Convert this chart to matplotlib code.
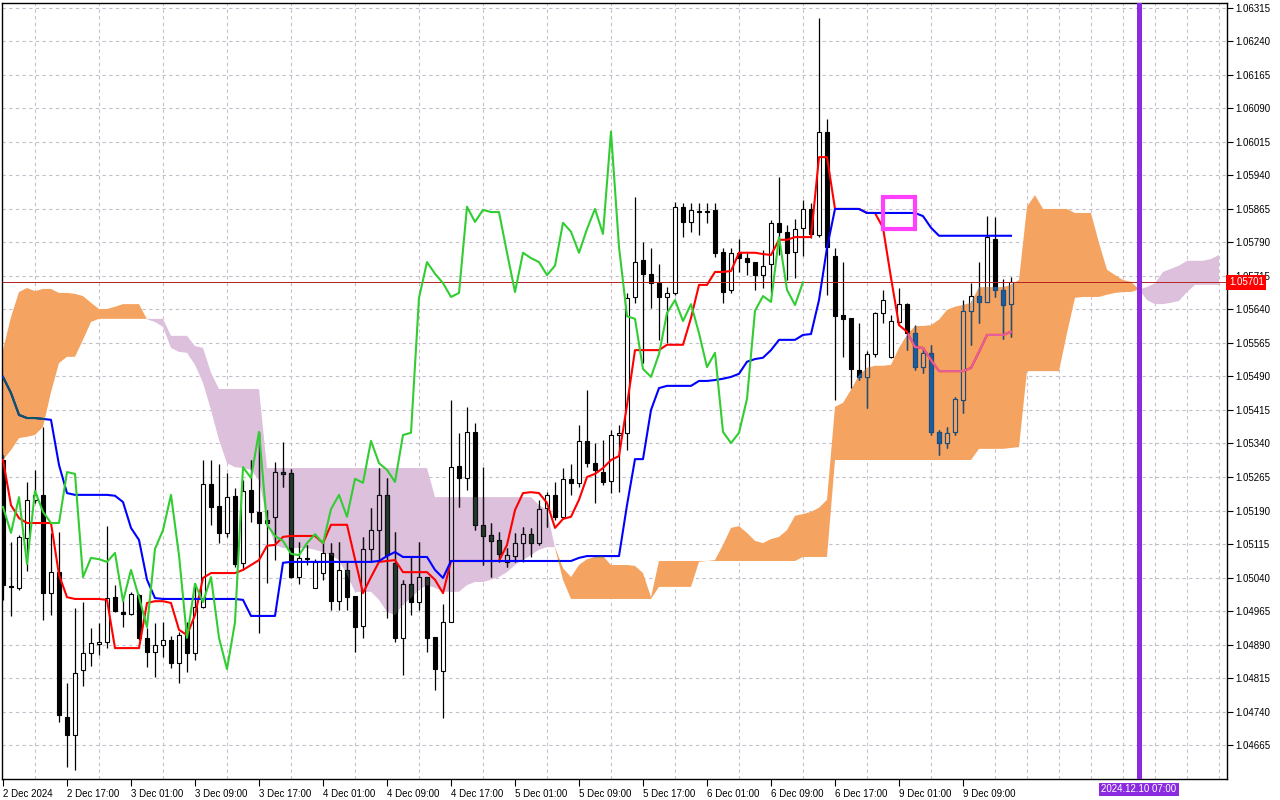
import matplotlib
matplotlib.use("Agg")
import matplotlib.pyplot as plt
import matplotlib.path as mpath
import matplotlib.transforms as mtrans
import numpy as np

# EURUSD H1, 2 Dec 2024 09:00 .. 9 Dec 2024 15:00 (bar index 0..126)
open_p = [1.05303, 1.05021, 1.05017, 1.05128, 1.05214, 1.05225, 1.05005, 1.05052, 1.04728, 1.04688,
          1.04833, 1.04871, 1.04891, 1.04896, 1.04996, 1.04963, 1.04958, 1.05001, 1.04905, 1.04873,
          1.04889, 1.04900, 1.04849, 1.04929, 1.04871, 1.04974, 1.05249, 1.05200, 1.05140, 1.05223,
          1.05073, 1.05236, 1.05187, 1.05169, 1.05176, 1.05276, 1.05274, 1.05041, 1.05084, 1.05017,
          1.05050, 1.05095, 1.04987, 1.05057, 1.04999, 1.04932, 1.05104, 1.05146, 1.05225, 1.05073,
          1.04905, 1.05026, 1.04985, 1.05041, 1.04907, 1.04831, 1.04940, 1.05290, 1.05263, 1.05366,
          1.05158, 1.05135, 1.05124, 1.05075, 1.05088, 1.05117, 1.05137, 1.05117, 1.05196, 1.05225,
          1.05176, 1.05261, 1.05252, 1.05346, 1.05296, 1.05276, 1.05256, 1.05359, 1.05364, 1.05668,
          1.05751, 1.05720, 1.05699, 1.05668, 1.05677, 1.05870, 1.05836, 1.05861, 1.05861, 1.05863,
          1.05769, 1.05684, 1.05767, 1.05755, 1.05746, 1.05717, 1.05742, 1.05834, 1.05814, 1.05769,
          1.05823, 1.05865, 1.05807, 1.06038, 1.05760, 1.05628, 1.05621, 1.05505, 1.05489, 1.05540,
          1.05632, 1.05534, 1.05612, 1.05652, 1.05587, 1.05511, 1.05543, 1.05366, 1.05341, 1.05366,
          1.05438, 1.05637, 1.05670, 1.05657, 1.05798, 1.05684, 1.05652]
high_p = [1.05314, 1.05120, 1.05135, 1.05254, 1.05281, 1.05377, 1.05140, 1.05142, 1.04804, 1.04972,
          1.04985, 1.04927, 1.04938, 1.05155, 1.05023, 1.04990, 1.05008, 1.05003, 1.04927, 1.04938,
          1.04940, 1.04909, 1.04918, 1.04940, 1.05028, 1.05303, 1.05303, 1.05294, 1.05274, 1.05240,
          1.05258, 1.05303, 1.05366, 1.05191, 1.05299, 1.05343, 1.05283, 1.05120, 1.05113, 1.05081,
          1.05120, 1.05117, 1.05120, 1.05075, 1.04999, 1.05131, 1.05196, 1.05285, 1.05263, 1.05142,
          1.05035, 1.05086, 1.05120, 1.05041, 1.04907, 1.04981, 1.05438, 1.05364, 1.05422, 1.05386,
          1.05287, 1.05162, 1.05142, 1.05106, 1.05140, 1.05153, 1.05151, 1.05214, 1.05231, 1.05254,
          1.05285, 1.05294, 1.05381, 1.05460, 1.05341, 1.05348, 1.05370, 1.05381, 1.05677, 1.05892,
          1.05791, 1.05778, 1.05742, 1.05690, 1.05881, 1.05878, 1.05878, 1.05878, 1.05878, 1.05878,
          1.05778, 1.05778, 1.05798, 1.05767, 1.05746, 1.05773, 1.05840, 1.05937, 1.05829, 1.05843,
          1.05885, 1.05878, 1.06293, 1.06067, 1.05778, 1.05746, 1.05621, 1.05610, 1.05547, 1.05634,
          1.05684, 1.05628, 1.05688, 1.05655, 1.05605, 1.05556, 1.05561, 1.05370, 1.05377, 1.05444,
          1.05661, 1.05699, 1.05746, 1.05849, 1.05847, 1.05708, 1.05713]
low_p = [1.04990, 1.04954, 1.05012, 1.05055, 1.05207, 1.04945, 1.04956, 1.04717, 1.04616, 1.04609,
         1.04797, 1.04842, 1.04867, 1.04882, 1.04963, 1.04929, 1.04956, 1.04900, 1.04840, 1.04817,
         1.04862, 1.04837, 1.04804, 1.04828, 1.04855, 1.04972, 1.05158, 1.05117, 1.05131, 1.05064,
         1.05057, 1.05164, 1.04916, 1.05028, 1.05079, 1.05243, 1.05039, 1.05026, 1.05068, 1.05017,
         1.05035, 1.04967, 1.04967, 1.04967, 1.04873, 1.04905, 1.05075, 1.05079, 1.04949, 1.04896,
         1.04822, 1.04956, 1.04967, 1.04873, 1.04788, 1.04725, 1.04940, 1.05198, 1.05236, 1.05146,
         1.05068, 1.05041, 1.05075, 1.05064, 1.05075, 1.05075, 1.05086, 1.05113, 1.05153, 1.05169,
         1.05176, 1.05225, 1.05243, 1.05287, 1.05207, 1.05247, 1.05229, 1.05231, 1.05325, 1.05655,
         1.05520, 1.05643, 1.05572, 1.05565, 1.05673, 1.05802, 1.05814, 1.05807, 1.05834, 1.05758,
         1.05655, 1.05677, 1.05724, 1.05717, 1.05684, 1.05688, 1.05677, 1.05762, 1.05706, 1.05711,
         1.05760, 1.05800, 1.05802, 1.05673, 1.05438, 1.05534, 1.05464, 1.05482, 1.05420, 1.05534,
         1.05610, 1.05532, 1.05610, 1.05549, 1.05505, 1.05498, 1.05359, 1.05314, 1.05330, 1.05359,
         1.05408, 1.05561, 1.05610, 1.05657, 1.05668, 1.05574, 1.05578]
close_p = [1.05023, 1.05019, 1.05131, 1.05214, 1.05225, 1.05005, 1.05052, 1.04732, 1.04688, 1.04826,
           1.04871, 1.04893, 1.04896, 1.04994, 1.04965, 1.04958, 1.05003, 1.04905, 1.04873, 1.04889,
           1.04900, 1.04849, 1.04911, 1.04871, 1.04974, 1.05249, 1.05198, 1.05140, 1.05220, 1.05070,
           1.05234, 1.05187, 1.05162, 1.05162, 1.05276, 1.05272, 1.05041, 1.05084, 1.05081, 1.05075,
           1.05095, 1.04987, 1.05057, 1.04996, 1.04929, 1.05104, 1.05146, 1.05225, 1.05090, 1.04905,
           1.05026, 1.04985, 1.05041, 1.04905, 1.04835, 1.04940, 1.05287, 1.05263, 1.05366, 1.05158,
           1.05133, 1.05122, 1.05093, 1.05090, 1.05117, 1.05137, 1.05117, 1.05193, 1.05225, 1.05176,
           1.05261, 1.05252, 1.05346, 1.05296, 1.05281, 1.05254, 1.05359, 1.05364, 1.05666, 1.05746,
           1.05720, 1.05699, 1.05668, 1.05677, 1.05870, 1.05836, 1.05863, 1.05858, 1.05858, 1.05767,
           1.05679, 1.05767, 1.05755, 1.05746, 1.05717, 1.05738, 1.05834, 1.05814, 1.05767, 1.05820,
           1.05865, 1.05809, 1.06038, 1.05780, 1.05625, 1.05619, 1.05507, 1.05489, 1.05540, 1.05632,
           1.05661, 1.05614, 1.05652, 1.05587, 1.05511, 1.05543, 1.05366, 1.05341, 1.05364, 1.05440,
           1.05637, 1.05670, 1.05657, 1.05802, 1.05684, 1.05650, 1.05701]

tenkan = [1.05303, 1.05202, 1.05173, 1.05162, 1.05162, 1.05162, 1.05162, 1.05046, 1.04996, 1.04992,
          1.04992, 1.04992, 1.04992, 1.04990, 1.04882, 1.04882, 1.04882, 1.04882, 1.04983, 1.04987,
          1.04987, 1.04983, 1.04923, 1.04911, 1.04956, 1.05039, 1.05050, 1.05050, 1.05050, 1.05050,
          1.05057, 1.05068, 1.05079, 1.05111, 1.05113, 1.05131, 1.05133, 1.05133, 1.05133, 1.05133,
          1.05117, 1.05158, 1.05158, 1.05158, 1.05081, 1.05005, 1.05041, 1.05075, 1.05077, 1.05079,
          1.05052, 1.05052, 1.05052, 1.05052, 1.05035, 1.05005, 1.05077, 1.05077, 1.05077, 1.05077,
          1.05077, 1.05077, 1.05077, 1.05113, 1.05191, 1.05229, 1.05231, 1.05229, 1.05207, 1.05151,
          1.05171, 1.05176, 1.05214, 1.05265, 1.05272, 1.05285, 1.05303, 1.05312, 1.05426, 1.05549,
          1.05549, 1.05549, 1.05549, 1.05561, 1.05561, 1.05561, 1.05621, 1.05695, 1.05695, 1.05724,
          1.05724, 1.05726, 1.05767, 1.05767, 1.05767, 1.05764, 1.05762, 1.05796, 1.05796, 1.05802,
          1.05802, 1.05802, 1.05981, 1.05981, 1.05865, 1.05865, 1.05865, 1.05865, 1.05856, 1.05856,
          1.05823, 1.05711, 1.05605, 1.05590, 1.05556, 1.05554, 1.05527, 1.05502, 1.05502, 1.05502,
          1.05502, 1.05509, 1.05545, 1.05583, 1.05583, 1.05583, 1.05590]
kijun = [1.05489, 1.05453, 1.05404, 1.05397, 1.05397, 1.05395, 1.05393, 1.05292, 1.05229, 1.05225,
         1.05225, 1.05225, 1.05225, 1.05225, 1.05223, 1.05209, 1.05151, 1.05124, 1.05035, 1.04994,
         1.04992, 1.04992, 1.04992, 1.04992, 1.04992, 1.04992, 1.04992, 1.04992, 1.04992, 1.04992,
         1.04990, 1.04954, 1.04954, 1.04954, 1.04954, 1.05073, 1.05075, 1.05075, 1.05075, 1.05075,
         1.05075, 1.05075, 1.05075, 1.05075, 1.05075, 1.05075, 1.05075, 1.05077, 1.05088, 1.05097,
         1.05086, 1.05086, 1.05086, 1.05086, 1.05057, 1.05039, 1.05077, 1.05077, 1.05077, 1.05077,
         1.05077, 1.05077, 1.05077, 1.05077, 1.05077, 1.05077, 1.05077, 1.05077, 1.05077, 1.05077,
         1.05077, 1.05077, 1.05084, 1.05088, 1.05088, 1.05088, 1.05088, 1.05088, 1.05202, 1.05305,
         1.05305, 1.05415, 1.05464, 1.05469, 1.05469, 1.05469, 1.05469, 1.05480, 1.05480, 1.05482,
         1.05485, 1.05489, 1.05496, 1.05523, 1.05529, 1.05532, 1.05549, 1.05572, 1.05572, 1.05572,
         1.05583, 1.05585, 1.05661, 1.05778, 1.05865, 1.05865, 1.05865, 1.05865, 1.05856, 1.05856,
         1.05856, 1.05856, 1.05856, 1.05856, 1.05856, 1.05849, 1.05823, 1.05805, 1.05805, 1.05805,
         1.05805, 1.05805, 1.05805, 1.05805, 1.05805, 1.05805, 1.05805]
# senkou spans, plotted 26 bars ahead (bar index 0..152)
span_a = [1.05549, 1.05623, 1.05679, 1.05688, 1.05681, 1.05686, 1.05686, 1.05677, 1.05677, 1.05675,
          1.05670, 1.05655, 1.05641, 1.05641, 1.05646, 1.05652, 1.05652, 1.05652, 1.05618, 1.05612,
          1.05601, 1.05554, 1.05545, 1.05543, 1.05516, 1.05476, 1.05415, 1.05348, 1.05296, 1.05287,
          1.05285, 1.05281, 1.05258, 1.05169, 1.05113, 1.05106, 1.05106, 1.05106, 1.05106, 1.05102,
          1.05097, 1.05090, 1.05079, 1.05046, 1.05008, 1.05008, 1.05008, 1.04990, 1.04963, 1.04956,
          1.04979, 1.04994, 1.05012, 1.05023, 1.05017, 1.05008, 1.05008, 1.05008, 1.05023, 1.05030,
          1.05030, 1.05035, 1.05041, 1.05052, 1.05068, 1.05079, 1.05090, 1.05102, 1.05108, 1.05108,
          1.05061, 1.05041, 1.05068, 1.05081, 1.05086, 1.05088, 1.05068, 1.05068, 1.05068, 1.05066,
          1.05050, 1.04996, 1.05077, 1.05077, 1.05077, 1.05077, 1.05077, 1.05077, 1.05077, 1.05079,
          1.05113, 1.05151, 1.05155, 1.05140, 1.05122, 1.05117, 1.05126, 1.05131, 1.05146, 1.05178,
          1.05182, 1.05187, 1.05196, 1.05214, 1.05422, 1.05431, 1.05460, 1.05493, 1.05509, 1.05514,
          1.05514, 1.05516, 1.05554, 1.05583, 1.05603, 1.05603, 1.05605, 1.05617, 1.05639, 1.05646,
          1.05650, 1.05655, 1.05690, 1.05690, 1.05690, 1.05690, 1.05695, 1.05706, 1.05870, 1.05896,
          1.05865, 1.05865, 1.05865, 1.05865, 1.05856, 1.05856, 1.05856, 1.05789, 1.05729, 1.05717,
          1.05706, 1.05702, 1.05685, 1.05661, 1.05652, 1.05652, 1.05655, 1.05659, 1.05679, 1.05695,
          1.05695, 1.05695, 1.05695]
span_b = [1.05303, 1.05325, 1.05352, 1.05355, 1.05359, 1.05377, 1.05455, 1.05520, 1.05534, 1.05534,
          1.05572, 1.05612, 1.05619, 1.05619, 1.05619, 1.05619, 1.05619, 1.05619, 1.05619, 1.05619,
          1.05619, 1.05581, 1.05581, 1.05581, 1.05558, 1.05554, 1.05498, 1.05462, 1.05462, 1.05462,
          1.05462, 1.05462, 1.05462, 1.05285, 1.05285, 1.05285, 1.05285, 1.05285, 1.05285, 1.05285,
          1.05285, 1.05285, 1.05285, 1.05285, 1.05285, 1.05285, 1.05285, 1.05285, 1.05285, 1.05285,
          1.05285, 1.05285, 1.05285, 1.05285, 1.05220, 1.05220, 1.05220, 1.05220, 1.05220, 1.05220,
          1.05220, 1.05220, 1.05220, 1.05220, 1.05220, 1.05220, 1.05220, 1.05202, 1.05191, 1.05106,
          1.05035, 1.04992, 1.04992, 1.04992, 1.04992, 1.04992, 1.04992, 1.04992, 1.04992, 1.04992,
          1.04992, 1.04992, 1.05019, 1.05019, 1.05019, 1.05019, 1.05019, 1.05075, 1.05077, 1.05077,
          1.05077, 1.05077, 1.05077, 1.05077, 1.05077, 1.05077, 1.05077, 1.05077, 1.05077, 1.05077,
          1.05086, 1.05086, 1.05086, 1.05086, 1.05303, 1.05303, 1.05303, 1.05303, 1.05303, 1.05303,
          1.05303, 1.05303, 1.05303, 1.05303, 1.05303, 1.05303, 1.05303, 1.05303, 1.05303, 1.05303,
          1.05303, 1.05303, 1.05328, 1.05328, 1.05328, 1.05328, 1.05330, 1.05332, 1.05502, 1.05502,
          1.05502, 1.05502, 1.05502, 1.05587, 1.05666, 1.05668, 1.05668, 1.05668, 1.05673, 1.05677,
          1.05679, 1.05679, 1.05685, 1.05690, 1.05699, 1.05724, 1.05731, 1.05738, 1.05749, 1.05749,
          1.05749, 1.05753, 1.05762]

price_ticks = [1.04665, 1.04740, 1.04815, 1.04890, 1.04965, 1.05040, 1.05115, 1.05190, 1.05265,
               1.05340, 1.05415, 1.05490, 1.05565, 1.05640, 1.05715, 1.05790, 1.05865, 1.05940,
               1.06015, 1.06090, 1.06165, 1.06240, 1.06315]
time_pos = [0, 8, 16, 24, 32, 40, 48, 56, 64, 72, 80, 88, 96, 104, 112, 120]
time_labels = ["2 Dec 2024", "2 Dec 17:00", "3 Dec 01:00", "3 Dec 09:00", "3 Dec 17:00",
               "4 Dec 01:00", "4 Dec 09:00", "4 Dec 17:00", "5 Dec 01:00", "5 Dec 09:00",
               "5 Dec 17:00", "6 Dec 01:00", "6 Dec 09:00", "6 Dec 17:00", "9 Dec 01:00",
               "9 Dec 09:00"]
bid = 1.05701
cursor_bar = 142
cursor_label = "2024.12.10 07:00"
mark_bar = 112

plt.rcParams['font.family'] = ['Liberation Sans', 'DejaVu Sans']

o = np.array(open_p); h = np.array(high_p); l = np.array(low_p); c = np.array(close_p)
x = np.arange(len(c))

fig = plt.figure(figsize=(12.8, 8), dpi=100)
ax = fig.add_axes([2 / 1280, 21 / 800, 1225 / 1280, 776 / 800])
ax.set_xlim(-0.125, 153)
ax.set_ylim(1.04589, 1.06326)

# cloud
sx = np.arange(len(span_a))
a = np.array(span_a); b = np.array(span_b)
up = ax.fill_between(sx, a, b, where=a >= b, interpolate=True, color='#f4a460', lw=0, zorder=1)
dn = ax.fill_between(sx, a, b, where=a <= b, interpolate=True, color='#dcc0dc', lw=0, zorder=1)
up_path = mpath.Path.make_compound_path(*up.get_paths())
dn_path = mpath.Path.make_compound_path(*dn.get_paths())


def draw_candles(face_up, face_dn, edge, z, clip=None):
    bull = c >= o
    wk = ax.vlines(x, l, h, colors=edge, lw=0.9, zorder=z)
    bars = ax.bar(x, np.maximum(np.abs(c - o), 0.000012), bottom=np.minimum(o, c), width=0.58,
                  color=[face_up if u else face_dn for u in bull], edgecolor=edge, lw=0.8, zorder=z)
    if clip is not None:
        wk.set_clip_path(clip, ax.transData)
        for p in bars:
            p.set_clip_path(clip, ax.transData)


draw_candles('white', 'black', 'black', 2)
draw_candles('#f4a460', '#1c5c9c', '#174f86', 2.1, up_path)
draw_candles('#dcc0dc', '#22382a', '#111111', 2.1, dn_path)

ax.axhline(bid, color='#b42222', lw=0.7, zorder=2.5)

# tenkan / kijun / chikou
tx = np.arange(len(tenkan))
ax.plot(tx, tenkan, color='#ff0000', lw=1.5, zorder=3)
t2, = ax.plot(tx, tenkan, color='#e6609e', lw=1.5, zorder=3.05)
t2.set_clip_path(up_path, ax.transData)
ax.plot(tx, kijun, color='#0000ff', lw=1.5, zorder=3.1)
k2, = ax.plot(tx, kijun, color='#0d5665', lw=1.5, zorder=3.15)
k2.set_clip_path(up_path, ax.transData)
ax.plot(np.arange(len(c) - 26), c[26:], color='#32cd32', lw=1.5, zorder=3.2)

ax.axvline(cursor_bar, color='#8a2be2', lw=3.6, zorder=4)
ax.plot(mark_bar, kijun[mark_bar], marker='s', ms=23, mfc='none', mec='#ff40ff', mew=3, zorder=5)

# grid and axes
ax.set_yticks(price_ticks)
ax.set_yticklabels([f"{p:.5f}" for p in price_ticks])
ax.yaxis.tick_right()
ax.set_xticks(time_pos)
ax.set_xticklabels(time_labels, ha='left')
ax.set_xticks(np.arange(0, 153, 4), minor=True)
ax.tick_params(axis='y', which='major', direction='out', length=4, width=0.8, pad=2, labelsize=7)
ax.tick_params(axis='x', which='major', direction='out', length=5, width=0.8, pad=2, labelsize=7)
ax.tick_params(axis='x', which='minor', length=0)
ax.set_axisbelow(True)
ax.grid(True, which='major', axis='y', color='#c3c0cc', ls=(0, (3, 3)), lw=0.8)
ax.grid(True, which='minor', axis='x', color='#cbbccb', ls=(0, (3, 3)), lw=0.8)
for s in ax.spines.values():
    s.set_color('black')
    s.set_linewidth(1)

tr_y = mtrans.blended_transform_factory(ax.transAxes, ax.transData)
ax.text(1.0015, bid, f"{bid:.5f}", transform=tr_y, color='white', fontsize=7, va='center', ha='left',
        bbox=dict(boxstyle='square,pad=0.25', fc='#ff0000', ec='none'), zorder=10, clip_on=False)
tr_x = mtrans.blended_transform_factory(ax.transData, ax.transAxes)
ax.text(cursor_bar, -0.0135, cursor_label, transform=tr_x, color='white', fontsize=7, va='center',
        ha='center', bbox=dict(boxstyle='square,pad=0.2', fc='#8a2be2', ec='none'), zorder=10,
        clip_on=False)

fig.savefig("out.png", dpi=100)
